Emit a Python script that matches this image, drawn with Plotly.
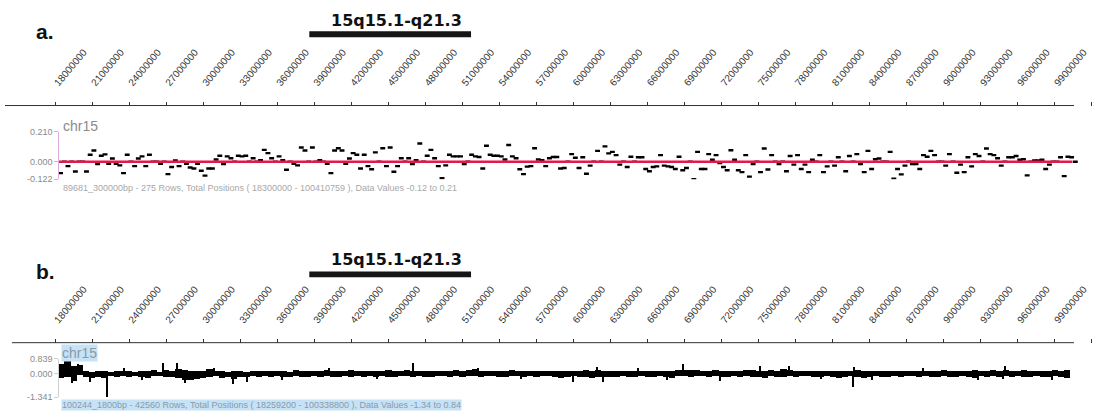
import plotly.graph_objects as go

W, H = 1112, 416

# ---------------- data ----------------
ruler_ticks = [18000000, 21000000, 24000000, 27000000, 30000000, 33000000, 36000000,
               39000000, 42000000, 45000000, 48000000, 51000000, 54000000, 57000000,
               60000000, 63000000, 66000000, 69000000, 72000000, 75000000, 78000000,
               81000000, 84000000, 87000000, 90000000, 93000000, 96000000, 99000000,
               102000000]
region_label = "15q15.1-q21.3"
region_start = 38600000
region_end = 51700000

# panel a: 275 rows of 300 kb
a_start = 18300000
a_end = 100410759
a_bin = 300000
a_values = [
    -0.079, 0.0, -0.03, 0.0, -0.068, 0.0, 0.0, -0.068, 0.05, 0.079,
    -0.016, 0.043, 0.052, -0.014, 0.023, -0.014, -0.025, -0.079, 0.05, 0.0,
    -0.03, 0.023, 0.038, -0.03, 0.05, 0.0, 0.0, -0.014, 0.0, -0.086,
    -0.036, 0.009, -0.03, 0.0, -0.014, -0.04, -0.047, -0.014, -0.063, -0.097,
    -0.047, -0.047, 0.016, 0.043, -0.016, 0.038, 0.025, 0.0, 0.043, 0.038,
    0.043, 0.0, 0.025, 0.0, 0.011, 0.084, 0.061, 0.025, 0.0, 0.038,
    0.011, -0.056, 0.0, -0.014, -0.025, 0.1, 0.079, 0.0, 0.1, 0.0,
    0.011, 0.0, -0.014, -0.079, 0.079, 0.095, 0.079, -0.014, 0.023, 0.061,
    0.05, -0.047, 0.05, -0.03, -0.052, 0.066, 0.0, 0.095, -0.03, 0.1,
    -0.07, -0.03, 0.025, 0.0, 0.025, -0.016, 0.011, 0.129, 0.0, 0.043,
    0.084, 0.025, -0.03, -0.115, -0.025, 0.05, 0.038, 0.038, 0.038, -0.016,
    0.0, 0.05, 0.038, 0.034, -0.047, 0.113, 0.05, 0.043, 0.043, 0.038,
    0.016, 0.118, 0.038, 0.025, -0.052, -0.086, -0.034, -0.03, 0.095, 0.016,
    0.011, -0.03, 0.025, 0.034, 0.034, -0.047, -0.043, 0.0, 0.054, 0.029,
    -0.043, 0.032, -0.084, -0.027, 0.0, 0.077, 0.0, 0.108, 0.059, 0.07,
    0.047, -0.02, 0.0, -0.036, 0.036, 0.0, 0.032, 0.032, -0.05, -0.066,
    -0.036, -0.032, 0.047, -0.027, -0.032, -0.036, -0.05, 0.036, -0.059, -0.043,
    0.0, -0.122, 0.07, -0.05, -0.05, 0.054, 0.014, 0.047, -0.009, -0.036,
    -0.059, 0.081, 0.014, -0.059, -0.072, 0.047, -0.104, -0.016, 0.0, -0.072,
    0.093, -0.054, 0.047, 0.0, -0.016, 0.0, -0.066, 0.041, -0.02, 0.047,
    -0.05, -0.02, -0.072, 0.014, 0.0, 0.047, -0.072, -0.032, 0.0, -0.027,
    0.032, 0.0, -0.066, 0.041, 0.0, 0.054, -0.016, -0.072, 0.077, -0.05,
    0.018, 0.023, 0.0, 0.0, 0.07, -0.118, -0.05, -0.088, -0.027, 0.0,
    -0.016, -0.016, -0.05, 0.047, 0.036, 0.077, 0.047, 0.0, 0.0, -0.027,
    0.054, 0.0, -0.077, -0.02, -0.072, 0.032, -0.032, 0.054, 0.041, 0.0,
    0.093, 0.054, 0.047, 0.025, -0.027, 0.0, 0.032, 0.032, 0.041, 0.014,
    0.018, -0.095, 0.0, 0.009, 0.009, 0.014, -0.05, -0.02, 0.0, 0.0,
    0.032, -0.1, 0.036, 0.032, 0.0,
]
a_yticks = [-0.122, 0.0, 0.21]
a_ytext = ["-0.122", "0.000", "0.210"]
a_footer = "89681_300000bp - 275 Rows, Total Positions ( 18300000 - 100410759 ), Data Values -0.12 to 0.21"

# panel b: 42560 rows of 1800 bp, summarised as 0.5 Mb envelopes + spikes
b_start = 18259200
b_end = 100338800
b_bin = 500000
b_hi = [
    0.55, 0.7, 0.42, 0.5, 0.16, 0.12, 0.18, 0.14, 0.11, 0.16,
    0.14, 0.17, 0.12, 0.15, 0.13, 0.19, 0.1, 0.22, 0.15, 0.28,
    0.2, 0.15, 0.18, 0.13, 0.24, 0.15, 0.13, 0.12, 0.17, 0.15,
    0.12, 0.15, 0.13, 0.18, 0.17, 0.13, 0.15, 0.12, 0.19, 0.13,
    0.15, 0.18, 0.13, 0.21, 0.15, 0.17, 0.13, 0.19, 0.15, 0.13,
    0.17, 0.13, 0.15, 0.19, 0.13, 0.17, 0.21, 0.15, 0.13, 0.18,
    0.13, 0.15, 0.17, 0.13, 0.19, 0.15, 0.21, 0.25, 0.17, 0.15,
    0.17, 0.13, 0.15, 0.19, 0.15, 0.13, 0.17, 0.15, 0.13, 0.18,
    0.15, 0.13, 0.17, 0.15, 0.13, 0.19, 0.15, 0.23, 0.17, 0.15,
    0.13, 0.17, 0.15, 0.13, 0.18, 0.15, 0.13, 0.17, 0.13, 0.15,
    0.23, 0.21, 0.19, 0.23, 0.17, 0.15, 0.19, 0.17, 0.15, 0.13,
    0.15, 0.19, 0.23, 0.17, 0.15, 0.21, 0.17, 0.25, 0.19, 0.15,
    0.13, 0.15, 0.17, 0.13, 0.18, 0.15, 0.13, 0.17, 0.15, 0.19,
    0.15, 0.13, 0.17, 0.15, 0.13, 0.18, 0.15, 0.17, 0.13, 0.15,
    0.17, 0.15, 0.13, 0.19, 0.15, 0.17, 0.13, 0.15, 0.19, 0.17,
    0.15, 0.19, 0.17, 0.23, 0.15, 0.17, 0.21, 0.15, 0.13, 0.17,
    0.15, 0.19, 0.17, 0.21,
]
b_lo = [
    -0.25, -0.2, -0.4, -0.1, -0.22, -0.26, -0.2, -0.24, -0.16, -0.19,
    -0.16, -0.22, -0.14, -0.19, -0.24, -0.16, -0.14, -0.2, -0.18, -0.24,
    -0.34, -0.39, -0.32, -0.24, -0.22, -0.16, -0.24, -0.19, -0.29, -0.22,
    -0.2, -0.16, -0.19, -0.14, -0.22, -0.16, -0.2, -0.18, -0.14, -0.2,
    -0.18, -0.14, -0.2, -0.16, -0.19, -0.22, -0.14, -0.18, -0.16, -0.2,
    -0.16, -0.2, -0.14, -0.18, -0.22, -0.16, -0.14, -0.19, -0.16, -0.18,
    -0.19, -0.14, -0.16, -0.2, -0.14, -0.18, -0.16, -0.14, -0.2, -0.16,
    -0.16, -0.2, -0.18, -0.14, -0.16, -0.19, -0.14, -0.18, -0.16, -0.14,
    -0.18, -0.24, -0.2, -0.16, -0.22, -0.18, -0.24, -0.2, -0.22, -0.19,
    -0.2, -0.16, -0.22, -0.18, -0.16, -0.2, -0.18, -0.16, -0.2, -0.24,
    -0.16, -0.14, -0.18, -0.16, -0.14, -0.19, -0.16, -0.18, -0.22, -0.16,
    -0.2, -0.16, -0.22, -0.18, -0.24, -0.16, -0.2, -0.18, -0.16, -0.19,
    -0.16, -0.14, -0.18, -0.2, -0.16, -0.18, -0.24, -0.2, -0.16, -0.22,
    -0.24, -0.18, -0.16, -0.2, -0.18, -0.16, -0.19, -0.16, -0.14, -0.18,
    -0.16, -0.2, -0.18, -0.16, -0.19, -0.22, -0.16, -0.18, -0.24, -0.16,
    -0.18, -0.16, -0.2, -0.16, -0.18, -0.16, -0.2, -0.19, -0.16, -0.18,
    -0.2, -0.16, -0.22, -0.24,
]
b_spike_pos = [18900000, 19380000, 19860000, 20840000, 22210000, 23600000, 25100000,
               26750000, 27880000, 28530000, 30900000, 32420000, 33550000, 36400000,
               40200000, 44100000, 47000000, 52300000, 55800000, 59960000, 61900000,
               62390000, 65200000, 67570000, 68860000, 71860000, 75100000, 77500000,
               80100000, 82640000, 82700000, 84180000, 88300000, 92770000, 94800000,
               94950000, 98760000]
b_spike_val = [0.84, -0.56, 0.54, -0.47, -1.34, 0.32, -0.36,
               0.6, 0.6, -0.56, 0.34, -0.6, -0.47, -0.34,
               0.3, -0.33, 0.6, 0.33, -0.3, -0.47, 0.38,
               -0.47, 0.3, -0.38, 0.58, -0.44, 0.45, 0.44,
               -0.32, -0.79, 0.37, -0.38, 0.32, -0.38, -0.33,
               0.44, -0.38]
b_yticks = [-1.341, 0.0, 0.839]
b_ytext = ["-1.341", "0.000", "0.839"]
b_footer = "100244_1800bp - 42560 Rows, Total Positions ( 18259200 - 100338800 ), Data Values -1.34 to 0.84"
chrom = "chr15"

# ---------------- geometry ----------------
PX_PER_MB = 12.345
X_OF_18MB = 55.0
r0 = 18e6 - X_OF_18MB / PX_PER_MB * 1e6
r1 = r0 + W / PX_PER_MB * 1e6


def py(y):
    return 1 - y / H


def px(x):
    return x / W


FONT = "Liberation Sans, Arial, sans-serif"

fig = go.Figure()

# panel a dashes
a_x = [a_start + (i + 0.5) * a_bin for i in range(len(a_values))]
fig.add_trace(go.Scatter(
    x=a_x, y=a_values, mode="markers", xaxis="x", yaxis="y",
    marker=dict(symbol="line-ew", size=3.5, color="black",
                line=dict(color="black", width=2.4)),
    hoverinfo="skip", showlegend=False))
fig.add_trace(go.Scatter(
    x=[a_start, a_end], y=[0, 0], mode="lines", xaxis="x", yaxis="y",
    line=dict(color="#e3194b", width=2.6), hoverinfo="skip", showlegend=False))

# panel b bars
b_x = [b_start + (i + 0.5) * b_bin for i in range(len(b_hi))]
fig.add_trace(go.Bar(x=b_x, y=b_hi, width=b_bin, xaxis="x2", yaxis="y2",
                     marker=dict(color="black", line=dict(width=0)),
                     hoverinfo="skip", showlegend=False))
fig.add_trace(go.Bar(x=b_x, y=b_lo, width=b_bin, xaxis="x2", yaxis="y2",
                     marker=dict(color="black", line=dict(width=0)),
                     hoverinfo="skip", showlegend=False))
fig.add_trace(go.Bar(x=b_spike_pos, y=b_spike_val, width=110000, xaxis="x2", yaxis="y2",
                     marker=dict(color="black", line=dict(width=0)),
                     hoverinfo="skip", showlegend=False))

ruler = dict(domain=[0, 1], range=[r0, r1], side="top", anchor="free",
             tickvals=ruler_ticks, ticktext=[str(t) for t in ruler_ticks],
             tickangle=-50, ticks="outside", ticklen=4, tickcolor="#333",
             tickfont=dict(family=FONT, size=10, color="#333"),
             ticklabelstandoff=9,
             showline=False, showgrid=False, zeroline=False, fixedrange=True)

yax = dict(anchor="free", position=px(58.3), side="left", showgrid=False,
           zeroline=False, showline=True, linewidth=1, ticks="outside", ticklen=4,
           tickfont=dict(family=FONT, size=9, color="#8a8a8a"))

fig.update_layout(
    width=W, height=H, margin=dict(l=0, r=0, t=0, b=0),
    paper_bgcolor="white", plot_bgcolor="rgba(0,0,0,0)",
    barmode="overlay", bargap=0,
    xaxis=dict(ruler, position=py(103)),
    xaxis2=dict(ruler, position=py(346)),
    yaxis=dict(yax, domain=[py(178.5), py(130)], range=[-0.122, 0.21],
               tickvals=a_yticks, ticktext=a_ytext, linecolor="#e0a8dc",
               tickcolor="#e0a8dc"),
    yaxis2=dict(yax, domain=[py(401.7), py(362.7)], range=[-1.341, 0.839],
                tickvals=b_yticks, ticktext=b_ytext, linecolor="#cfcfcf",
                tickcolor="#cfcfcf"),
)

shapes = []
for yline, xs in ((103, 5), (346, 12)):
    shapes.append(dict(type="line", xref="paper", yref="paper",
                       x0=px(xs), x1=px(1074), y0=py(yline), y1=py(yline),
                       line=dict(color="#333", width=1)))
for xr, ytop in (("x", 27), ("x2", 273)):
    shapes.append(dict(type="rect", xref=xr, yref="paper",
                       x0=region_start, x1=region_end, y0=py(ytop + 6), y1=py(ytop),
                       fillcolor="#151515", line=dict(width=0)))
fig.update_layout(shapes=shapes)

ann = []
for lab, yc in (("a.", 27), ("b.", 273)):
    ann.append(dict(text="<b>" + lab + "</b>", xref="paper", yref="paper", x=px(34), y=py(yc),
                    xanchor="left", yanchor="middle", showarrow=False,
                    font=dict(family=FONT, size=21, color="#111")))
for xr, yc in (("x", 16), ("x2", 261)):
    ann.append(dict(text="<b>" + region_label + "</b>", xref=xr, yref="paper",
                    x=(region_start + region_end) / 2 + 500000, y=py(yc),
                    xanchor="center", yanchor="middle", showarrow=False,
                    font=dict(family="DejaVu Sans, sans-serif", size=16, color="#111")))
ann.append(dict(text=chrom, xref="paper", yref="paper", x=px(61), y=py(124),
                xanchor="left", yanchor="middle", showarrow=False,
                font=dict(family=FONT, size=14, color="#8a8a8a")))
ann.append(dict(text=a_footer, xref="paper", yref="paper", x=px(61), y=py(188),
                xanchor="left", yanchor="middle", showarrow=False,
                font=dict(family=FONT, size=9, color="#a8a8a8")))
ann.append(dict(text=chrom, xref="paper", yref="paper", x=px(61), y=py(357),
                xanchor="left", yanchor="middle", showarrow=False, bgcolor="#c6e2f6",
                borderpad=0, font=dict(family=FONT, size=14, color="#8a9aa6")))
ann.append(dict(text=b_footer, xref="paper", yref="paper", x=px(61), y=py(410),
                xanchor="left", yanchor="middle", showarrow=False, bgcolor="#c6e2f6",
                borderpad=0, font=dict(family=FONT, size=9, color="#8a9aa6")))
fig.update_layout(annotations=ann)

fig.write_html("out.html", config={"displayModeBar": False},
               post_script="document.body.style.margin='0px';document.body.style.overflow='hidden';")
